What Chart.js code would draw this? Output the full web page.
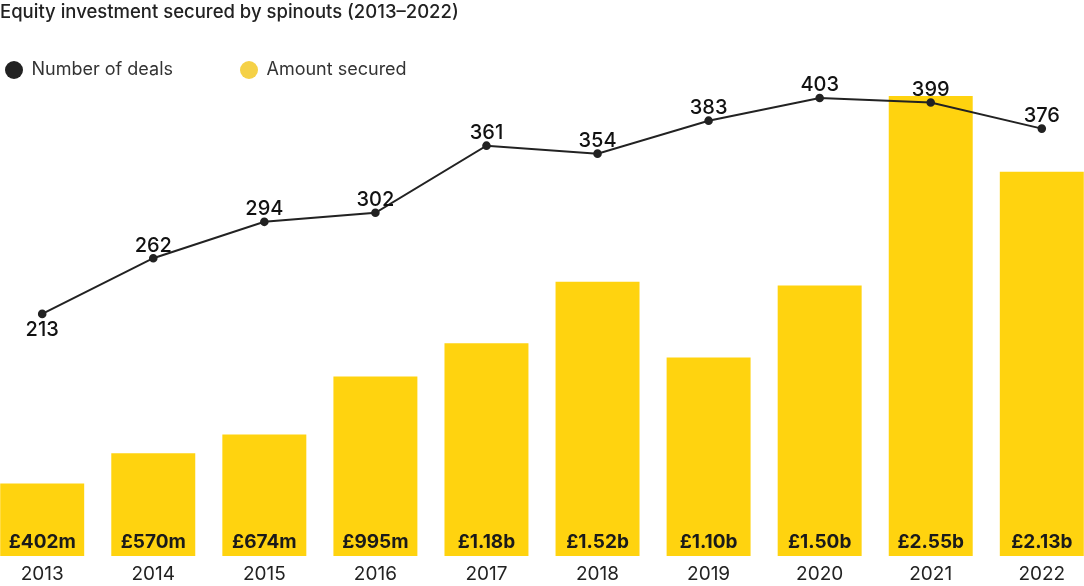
<!DOCTYPE html>
<html>
<head>
<meta charset="utf-8">
<script src="https://cdn.jsdelivr.net/npm/chart.js@4/dist/chart.umd.min.js"></script>
<style>
  html, body { margin: 0; padding: 0; background: #fff; }
  #wrap { width: 1084px; height: 586px; position: relative; }
</style>
</head>
<body>
<div id="wrap"><canvas id="myChart"></canvas></div>
<script>
let years = [2013, 2014, 2015, 2016, 2017, 2018, 2019, 2020, 2021, 2022];
// amount secured, in £ millions
let amounts = [402, 570, 674, 995, 1180, 1520, 1100, 1500, 2550, 2130];
let deals = [213, 262, 294, 302, 361, 354, 383, 403, 399, 376];
let legendLabels = ['Number of deals', 'Amount secured'];
let legendColors = ['#222222', '#f5d147'];

let barColor = '#ffd30f';
let lineColor = '#222222';

function money(v) {
    if (v < 1000) return '£' + v + 'm';
    return '£' + (v / 1000).toFixed(2) + 'b';
}

// value labels on bars and line points
let valueLabels = {
    id: 'valueLabels',
    afterDatasetsDraw(chart) {
        let ctx = chart.ctx;
        ctx.save();
        ctx.textAlign = 'center';
        ctx.textBaseline = 'alphabetic';

        let barMeta = chart.getDatasetMeta(1);
        ctx.font = '700 19px Inter';
        ctx.fillStyle = '#1a1a1a';
        barMeta.data.forEach((el, i) => {
            ctx.fillText(money(amounts[i]), el.x, el.base - 8);
        });

        let lineMeta = chart.getDatasetMeta(0);
        ctx.font = '500 20px Inter';
        ctx.fillStyle = '#111';
        lineMeta.data.forEach((el, i) => {
            let y = i === 0 ? el.y + 22 : el.y - 6.5;
            ctx.fillText(String(deals[i]), el.x, y);
        });
        ctx.restore();
    }
};

// legend drawn by hand so the item spacing can match
let sideLegend = {
    id: 'sideLegend',
    afterDraw(chart) {
        let ctx = chart.ctx;
        ctx.save();
        ctx.font = '400 18px Inter';
        ctx.textBaseline = 'middle';
        let x = 14;
        legendLabels.forEach((t, i) => {
            ctx.beginPath();
            ctx.arc(x, 70, 9, 0, Math.PI * 2);
            ctx.fillStyle = legendColors[i];
            ctx.fill();
            ctx.fillStyle = '#333';
            ctx.fillText(t, x + 17.5, 70);
            x += 235;
        });
        ctx.restore();
    }
};

let ctx = document.getElementById('myChart').getContext('2d');

let chart = new Chart(ctx, {
    type: 'bar',
    data: {
        datasets: [{
            type: 'line',
            label: legendLabels[0],
            data: years.map((y, i) => ({ x: y, y: deals[i] })),
            yAxisID: 'y1',
            borderColor: lineColor,
            backgroundColor: lineColor,
            borderWidth: 2,
            pointRadius: 3.3,
            pointHoverRadius: 3.3,
            tension: 0
        }, {
            type: 'bar',
            label: legendLabels[1],
            data: years.map((y, i) => ({ x: y, y: amounts[i] })),
            yAxisID: 'y',
            backgroundColor: barColor,
            categoryPercentage: 1,
            barPercentage: 0.756
        }]
    },
    options: {
        responsive: true,
        maintainAspectRatio: false,
        animation: false,
        layout: { padding: { top: 0, left: 0, right: 0, bottom: -6 }, autoPadding: false },
        plugins: {
            title: {
                display: true,
                text: 'Equity investment secured by spinouts (2013–2022)',
                align: 'start',
                color: '#222',
                font: { family: 'Inter', size: 18.5, weight: '500', lineHeight: 1.2 },
                padding: { top: 1, bottom: 62.8 }
            },
            legend: { display: false },
            tooltip: { enabled: false }
        },
        scales: {
            x: {
                type: 'linear',
                offset: false,
                min: 2012.62,
                max: 2022.38,
                grid: { display: false, drawTicks: false, offset: false },
                border: { display: false },
                ticks: {
                    stepSize: 1,
                    includeBounds: false,
                    padding: 6.6,
                    color: '#222',
                    font: { family: 'Inter', size: 19, lineHeight: 1.2 },
                    callback: v => Number.isInteger(v) ? String(v) : ''
                }
            },
            y: { display: false, min: 0, max: 2606 },
            y1: { display: false, min: 0, max: 413.5 }
        }
    },
    plugins: [valueLabels, sideLegend]
});
</script>
</body>
</html>
